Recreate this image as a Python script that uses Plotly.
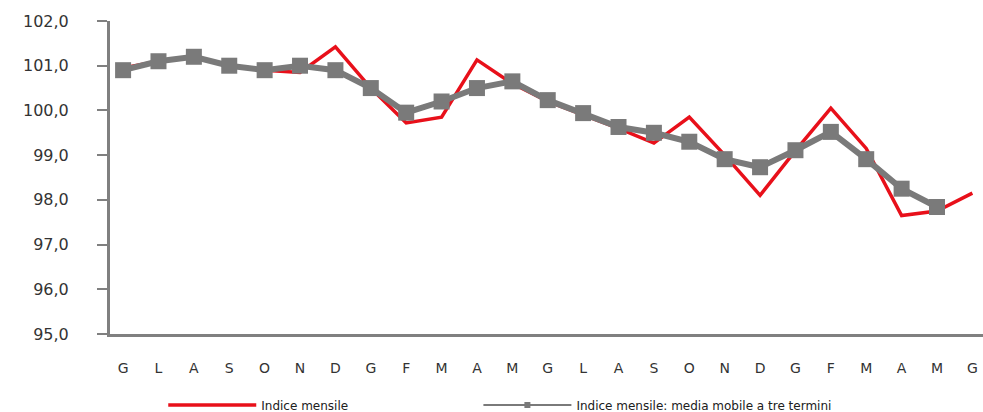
import plotly.graph_objects as go

months = ["G", "L", "A", "S", "O", "N", "D", "G", "F", "M", "A", "M",
          "G", "L", "A", "S", "O", "N", "D", "G", "F", "M", "A", "M", "G"]
indice_mensile = [100.95, 101.1, 101.2, 101.0, 100.9, 100.85, 101.42, 100.5, 99.72, 99.85,
                  101.13, 100.6, 100.2, 99.9, 99.6, 99.27, 99.85, 99.0, 98.1, 99.1,
                  100.05, 99.15, 97.65, 97.75, 98.15]
media_mobile = [100.9, 101.1, 101.2, 101.0, 100.9, 101.0, 100.9, 100.5, 99.95, 100.2,
                100.5, 100.65, 100.23, 99.94, 99.63, 99.5, 99.3, 98.91, 98.73, 99.11,
                99.52, 98.91, 98.25, 97.84, None]
y_ticks = [95, 96, 97, 98, 99, 100, 101, 102]

x = list(range(len(months)))
GREY = "#7a7a7a"
RED = "#e8101a"

fig = go.Figure()
fig.add_trace(go.Scatter(
    x=x, y=indice_mensile, mode="lines", name="Indice mensile",
    line=dict(color=RED, width=3.5), legend="legend",
))
fig.add_trace(go.Scatter(
    x=x, y=media_mobile, mode="lines+markers",
    name="Indice mensile: media mobile a tre termini", showlegend=False,
    line=dict(color=GREY, width=6),
    marker=dict(symbol="square", size=16, color=GREY),
))
# legend-only entry with a small marker, as in the reference legend
fig.add_trace(go.Scatter(
    x=[None], y=[None], mode="lines+markers",
    name="Indice mensile: media mobile a tre termini",
    line=dict(color=GREY, width=2),
    marker=dict(symbol="square", size=6, color=GREY),
    legend="legend2",
))

legend_common = dict(
    orientation="h", xanchor="left", y=-0.227, yanchor="middle",
    font=dict(size=12, color="#202020"), itemwidth=88,
    bgcolor="rgba(0,0,0,0)",
)

fig.update_layout(
    width=983, height=412,
    margin=dict(l=110, r=0, t=21, b=78, autoexpand=False),
    paper_bgcolor="white", plot_bgcolor="white",
    separators=",.",
    font=dict(family="DejaVu Sans, Arial, sans-serif", color="#404040"),
    showlegend=True,
    legend=dict(x=0.061, **legend_common),
    legend2=dict(x=0.422, **legend_common),
)
fig.update_xaxes(
    range=[-0.37, 24.3], tickvals=x, ticktext=months,
    showgrid=False, zeroline=False,
    showline=True, linecolor="#808080", linewidth=3,
    ticks="", ticklabelstandoff=19,
    tickfont=dict(size=14, color="#333333"),
)
fig.update_yaxes(
    range=[95, 102], tickvals=y_ticks, tickformat=".1f",
    showgrid=False, zeroline=False,
    showline=True, linecolor="#808080", linewidth=3,
    ticks="outside", ticklen=10, tickwidth=2, tickcolor="#808080",
    ticklabelstandoff=25,
    tickfont=dict(size=16, color="#333333"),
)

fig.write_html("out.html")
